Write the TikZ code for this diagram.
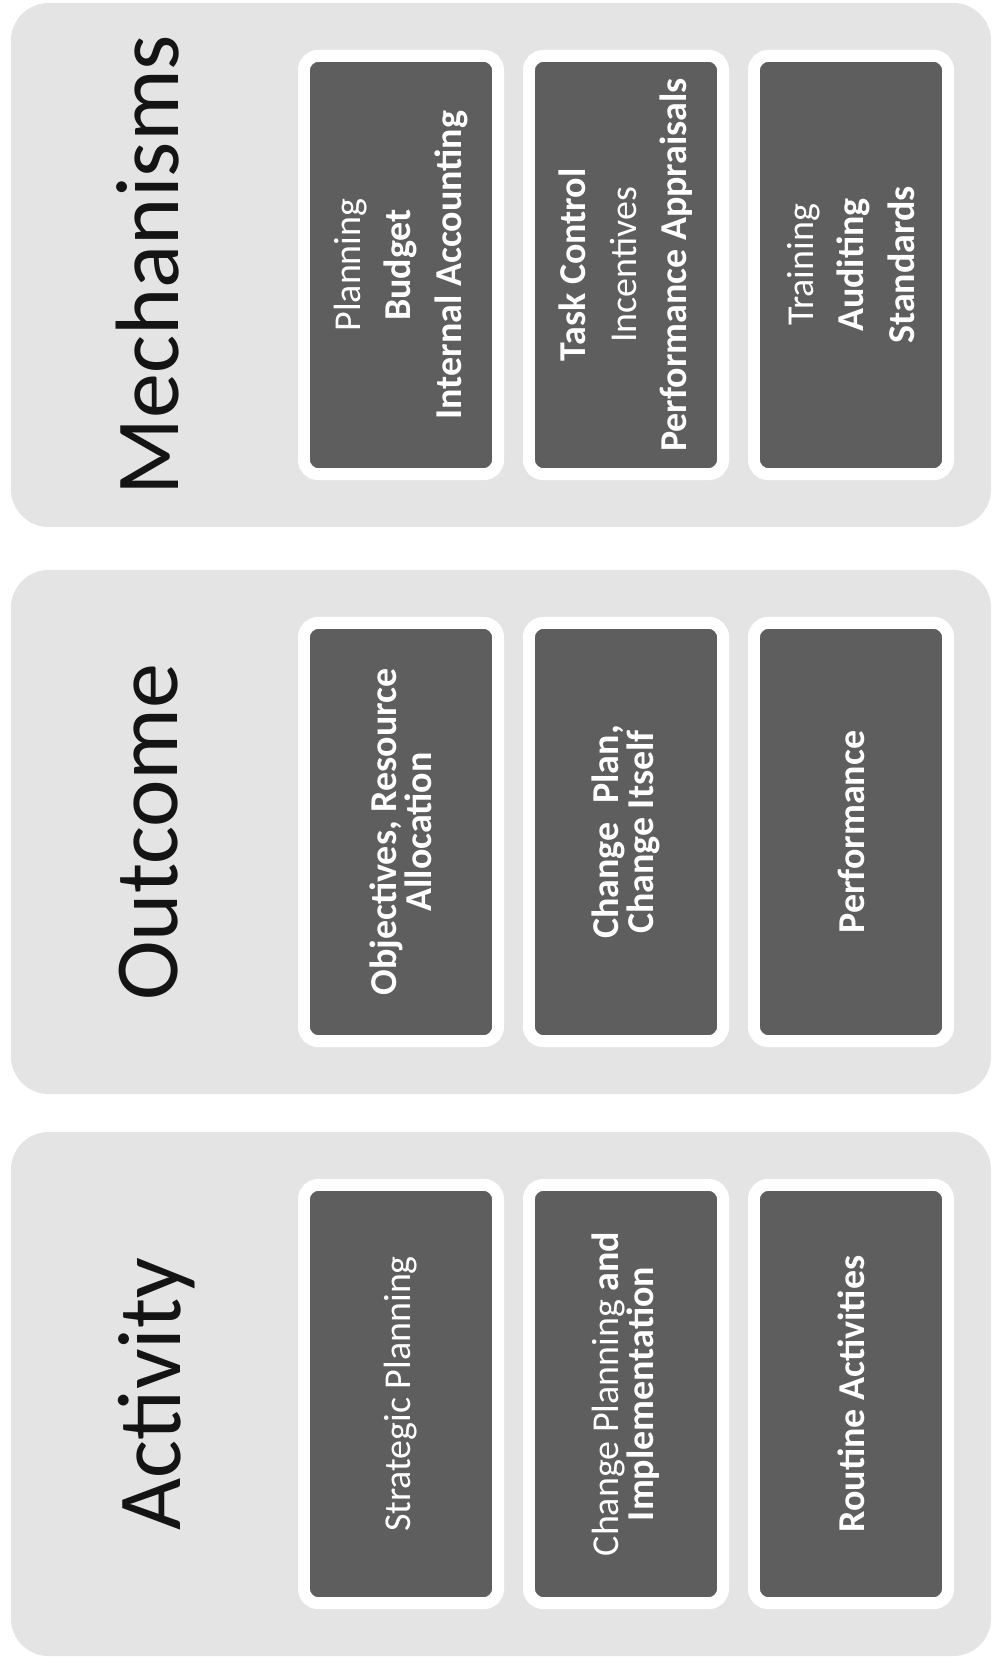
\documentclass[tikz,border=0pt]{standalone}
\usepackage{fontspec}
\setmainfont{Carlito}
\definecolor{PanelGrey}{RGB}{228,228,228}
\definecolor{BoxGrey}{RGB}{94,94,94}
\definecolor{InkBlack}{RGB}{20,20,20}
\tikzset{
  panel/.style={fill=PanelGrey,rounded corners=0.95cm,minimum width=24.5cm,minimum height=13.1cm,inner sep=0pt},
  heading/.style={rotate=90,anchor=base,text=InkBlack,font=\fontsize{64}{64}\selectfont,inner sep=0pt},
  box/.style={rotate=90,draw=white,line width=8.5pt,fill=BoxGrey,rounded corners=0.35cm,text=white,align=center,font=\fontsize{27}{25}\selectfont,minimum width=10.45cm,minimum height=4.85cm,inner sep=2pt},
  boldbox/.style={box,font=\fontsize{27}{25}\selectfont\bfseries}
}
\begin{document}
\begin{tikzpicture}[x=0.025cm,y={(0cm,-0.025cm)}]
  \useasboundingbox (0,0) rectangle (1001,1663);
  % mechanisms
  \node[panel] (mechPanel) at (501,265) {};
  \node[heading] (mechTitle) at (178,265) {Mechanisms};
  \node[box] (mechPlan) at (401,265) {Planning\\[11pt]\bfseries Budget\\[11pt]\bfseries Internal Accounting};
  \node[box] (mechTask) at (626,265) {\bfseries Task Control\\[11pt]Incentives\\[11pt]\bfseries Performance Appraisals};
  \node[box] (mechTrain) at (851,265) {Training\\[11pt]\bfseries Auditing\\[11pt]\bfseries Standards};
  % outcome
  \node[panel] (outPanel) at (501,832) {};
  \node[heading] (outTitle) at (177,832) {Outcome};
  \node[boldbox] (outObj) at (401,832) {Objectives, Resource\\Allocation};
  \node[boldbox] (outChange) at (626,832) {Change\enspace Plan,\\Change Itself};
  \node[boldbox] (outPerf) at (851,832) {Performance};
  % activity
  \node[panel] (actPanel) at (501,1394) {};
  \node[heading] (actTitle) at (180,1394) {Activity};
  \node[box] (actStrat) at (401,1394) {Strategic Planning};
  \node[box] (actChange) at (626,1394) {Change Planning \textbf{and}\\\bfseries Implementation};
  \node[boldbox] (actRoutine) at (851,1394) {Routine Activities};
\end{tikzpicture}
\end{document}
